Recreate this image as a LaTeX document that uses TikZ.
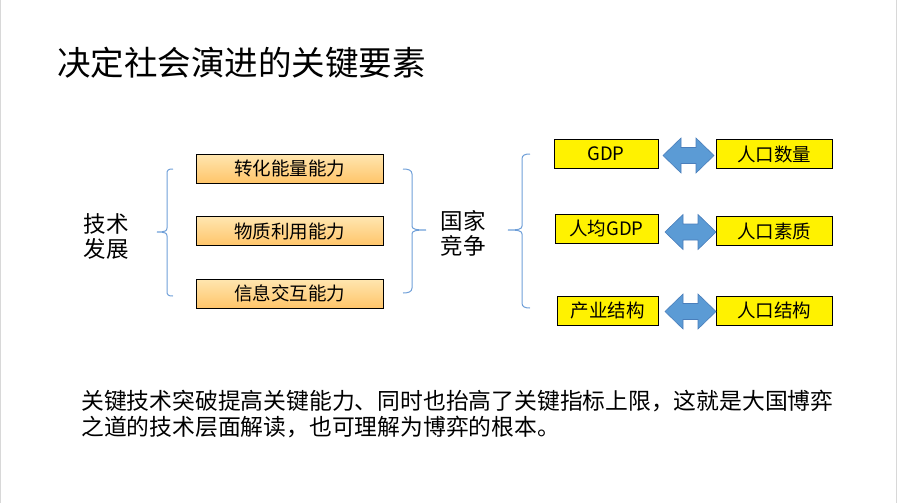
\documentclass[tikz,border=0pt]{standalone}
\usepackage{fontspec}
\setmainfont{Noto Sans CJK SC}
\definecolor{bracecol}{HTML}{6F9FD8}
\definecolor{arrowfill}{HTML}{5B9BD5}
\definecolor{arrowline}{HTML}{4A7EBB}
\definecolor{orangetop}{HTML}{FFE6B0}
\definecolor{orangebot}{HTML}{FFC56A}
\definecolor{edgegray}{HTML}{D8D8D8}
\tikzset{
  obox/.style={draw=black, line width=1pt, top color=orangetop, bottom color=orangebot,
    minimum width=187pt, minimum height=29pt, inner sep=0pt,
    font=\fontsize{18.5}{20}\selectfont},
  ybox/.style={draw=black, line width=1pt, fill=yellow, minimum height=29pt, inner sep=0pt,
    font=\fontsize{18.5}{20}\selectfont},
  brace/.style={draw=bracecol, line width=1pt},
  dblstyle/.style={draw=arrowline, fill=arrowfill, line width=0.6pt},
  lbl/.style={align=center, inner sep=0pt, font=\fontsize{22.5}{25}\selectfont},
  pics/dblarr/.style={code={
    \path[dblstyle] (-25.5,0) -- (-7.5,-17.5) -- (-7.5,-8) -- (7.5,-8) -- (7.5,-17.5)
      -- (25.5,0) -- (7.5,17.5) -- (7.5,8) -- (-7.5,8) -- (-7.5,17.5) -- cycle;
  }}
}
\begin{document}
\begin{tikzpicture}[x=1pt, y=-1pt]
\useasboundingbox (0,0) rectangle (897,503);
\draw[edgegray, line width=1pt] (0.5,0) -- (0.5,503);
\draw[edgegray, line width=1pt] (896.5,0) -- (896.5,503);

% title
\node[anchor=west, inner sep=0pt, font=\fontsize{33.5}{38}\selectfont] (title) at (57,63) {决定社会演进的关键要素};

% left label
\node[lbl] (tech) at (106,236) {技术\\发展};

% left brace
\draw[brace] (173,169) .. controls (168,169) and (167,170) .. (167,174) -- (167,228)
  .. controls (167,231) and (165,232) .. (157,232)
  .. controls (165,232) and (167,233) .. (167,236) -- (167,291)
  .. controls (167,295) and (168,296) .. (173,296);

% orange boxes
\node[obox] (b1) at (289.5,168.5) {转化能量能力};
\node[obox] (b2) at (289.5,231) {物质利用能力};
\node[obox] (b3) at (289.5,293.5) {信息交互能力};

% right brace
\draw[brace] (403,169) .. controls (408,169) and (412,170) .. (412,174) -- (412,226)
  .. controls (412,229) and (415,230) .. (426,230)
  .. controls (415,230) and (412,231) .. (412,234) -- (412,288)
  .. controls (412,292) and (408,293) .. (403,293);

% middle label
\node[lbl] (nation) at (463,233) {国家\\竞争};

% third brace
\draw[brace] (530,154) .. controls (525,154) and (522,155) .. (522,159) -- (522,226)
  .. controls (522,229) and (519,230) .. (508,230)
  .. controls (519,230) and (522,231) .. (522,234) -- (522,303)
  .. controls (522,307) and (525,308) .. (530,308);

% yellow boxes
\node[ybox, minimum width=104pt] (g1) at (606,154) {GDP};
\node[ybox, minimum width=103pt] (g2) at (606.5,228.5) {人均GDP};
\node[ybox, minimum width=101pt] (g3) at (607.5,310.5) {产业结构};
\node[ybox, minimum width=116pt] (p1) at (774,154) {人口数量};
\node[ybox, minimum width=116pt] (p2) at (774,231) {人口素质};
\node[ybox, minimum width=116pt] (p3) at (774,310.5) {人口结构};

% double arrows
\coordinate (a1) at (688.5,155.5);
\coordinate (a2) at (690.5,232);
\coordinate (a3) at (690.5,311.5);
\pic at (a1) {dblarr};
\pic at (a2) {dblarr};
\pic at (a3) {dblarr};

% bottom text
\node[anchor=north west, align=left, inner sep=0pt, font=\fontsize{22.8}{26}\selectfont] (note) at (81,390)
  {关键技术突破提高关键能力、同时也抬高了关键指标上限，这就是大国博弈\\之道的技术层面解读，也可理解为博弈的根本。};
\end{tikzpicture}
\end{document}
